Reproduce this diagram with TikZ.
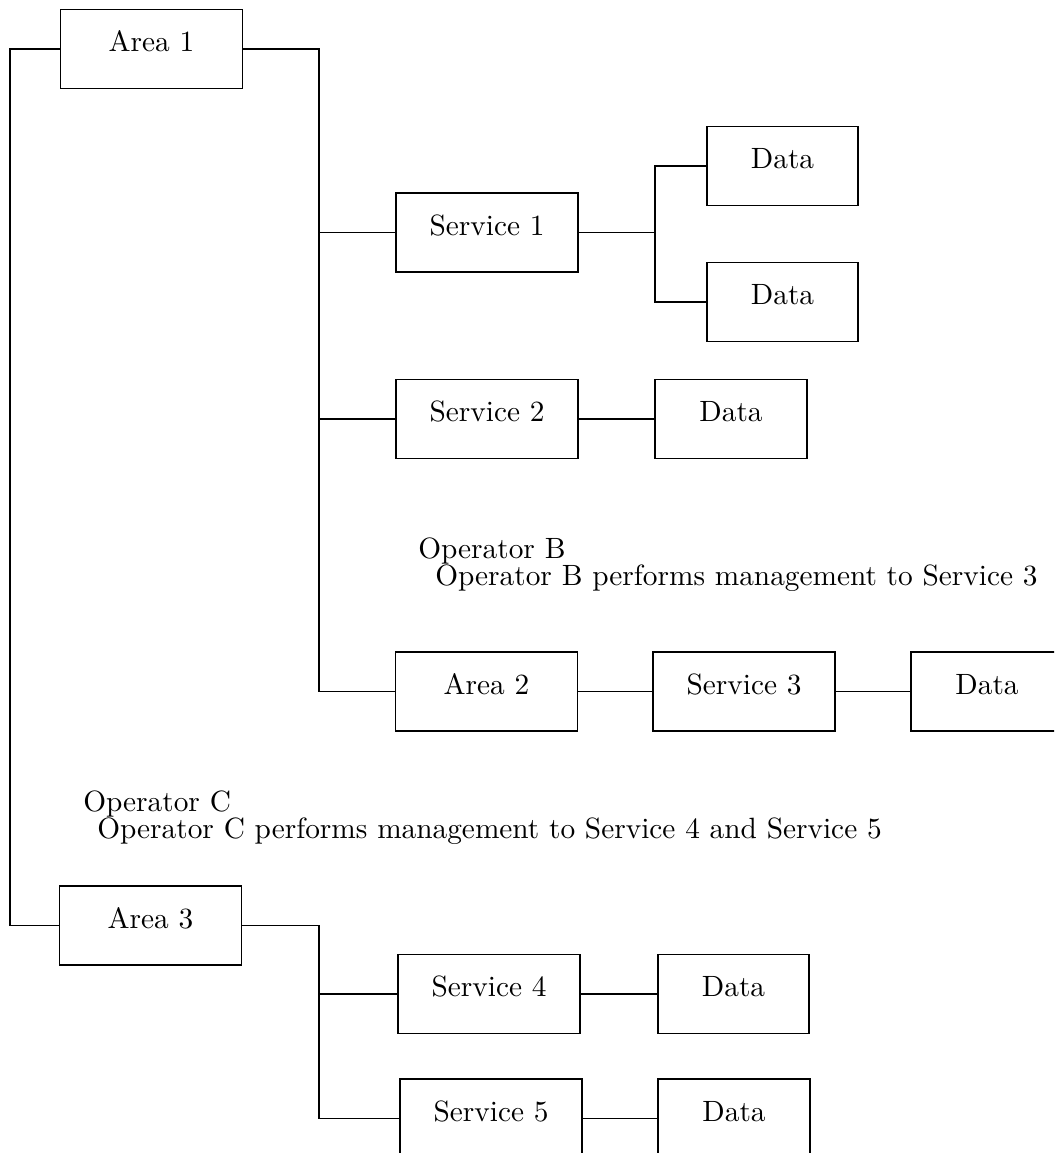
\documentclass[tikz,border=0pt]{standalone}
\usepackage{fontspec}
\setmainfont{lmroman10-regular.otf}
\newcommand\labelsize{\fontsize{22pt}{26pt}\selectfont}
\tikzset{
  box/.style={draw, line width=1.3pt, rectangle, inner xsep=0pt, inner ysep=0pt,
    text height=31.5pt, text depth=27.75pt, minimum width=#1, font=\labelsize},
  box/.default=136.5pt,
  databox/.style={box=113.6pt},
  wire/.style={line width=1.3pt},
  note/.style={anchor=base west, inner sep=0pt, font=\labelsize}
}
\begin{document}
\begin{tikzpicture}[x=0.75pt, y=-0.75pt]
  \useasboundingbox (0,0) rectangle (1054,1153);
  \clip (0,0) rectangle (1054,1153);

  % trunk positions
  \coordinate (lt) at (10,0);
  \coordinate (rt) at (319,0);
  \coordinate (br) at (655,0);

  % Area 1 branch
  \node[box] (area1) at (151.5,49) {Area 1};
  \node[box] (svc1) at (487,232.5) {Service 1};
  \node[databox] (d1a) at (782.5,166) {Data};
  \node[databox] (d1b) at (782.5,302) {Data};
  \node[box] (svc2) at (487,419) {Service 2};
  \node[databox] (d2) at (731,419) {Data};

  % Area 2 branch
  \node[note] (opb) at (418,558) {Operator B};
  \node[note] (opbtxt) at (435,585) {Operator B performs management to Service 3};
  \node[box] (area2) at (486.5,691.5) {Area 2};
  \node[box] (svc3) at (744,691.5) {Service 3};
  \node[databox] (d3) at (987,691.5) {Data};

  % Area 3 branch
  \node[note] (opc) at (83,811) {Operator C};
  \node[note] (opctxt) at (97,838) {Operator C performs management to Service 4 and Service 5};
  \node[box] (area3) at (150.5,925.5) {Area 3};
  \node[box] (svc4) at (489,994) {Service 4};
  \node[databox] (d4) at (733.5,994) {Data};
  \node[box] (svc5) at (491,1118.5) {Service 5};
  \node[databox] (d5) at (734,1118.5) {Data};

  % connectors
  \draw[wire] (area1.west) -- (area1.west -| lt) |- (area3.west);
  \draw[wire] (area1.east) -| (rt |- area2.west) -- (area2.west);
  \draw[wire] (rt |- svc1.west) -- (svc1.west);
  \draw[wire] (rt |- svc2.west) -- (svc2.west);
  \draw[wire] (svc1.east) -- (svc1.east -| br);
  \draw[wire] (d1a.west) -- (d1a.west -| br) |- (d1b.west);
  \draw[wire] (svc2.east) -- (d2.west);
  \draw[wire] (area2.east) -- (svc3.west);
  \draw[wire] (svc3.east) -- (d3.west);
  \draw[wire] (area3.east) -| (rt |- svc5.west) -- (svc5.west);
  \draw[wire] (rt |- svc4.west) -- (svc4.west);
  \draw[wire] (svc4.east) -- (d4.west);
  \draw[wire] (svc5.east) -- (d5.west);
\end{tikzpicture}
\end{document}
